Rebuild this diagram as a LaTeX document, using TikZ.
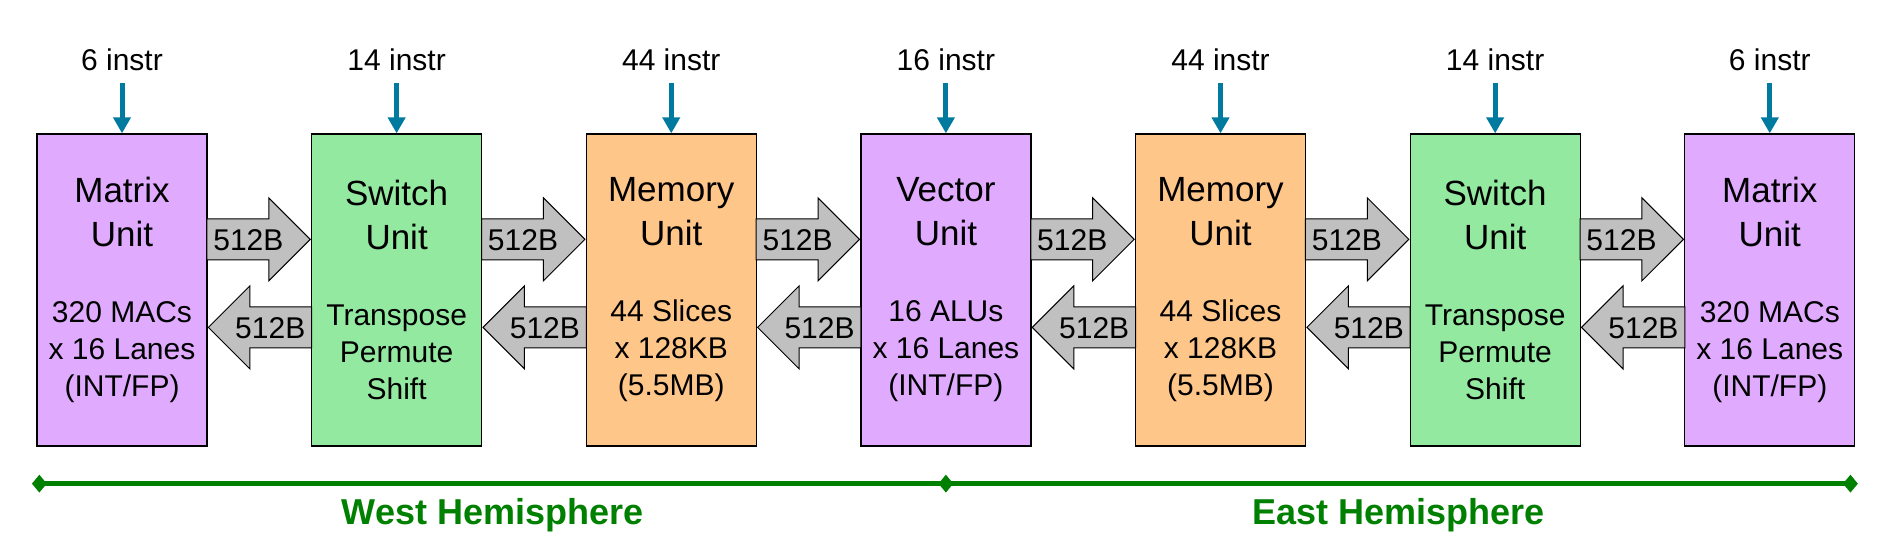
\documentclass[tikz,border=0pt]{standalone}
\usepackage{fontspec}
\setmainfont{Liberation Sans}
\usetikzlibrary{positioning,calc,shapes.arrows,shapes.geometric,arrows.meta}

\definecolor{matrixc}{RGB}{224,170,255}
\definecolor{switchc}{RGB}{148,233,160}
\definecolor{memc}{RGB}{255,198,138}
\definecolor{busc}{RGB}{192,192,192}
\definecolor{instrc}{RGB}{0,122,158}
\definecolor{hemic}{RGB}{0,128,0}

\newcommand{\uname}{\fontsize{35}{37}\selectfont}
\newcommand{\uinfo}{\fontsize{30}{37}\selectfont}

\tikzset{
  unit/.style={draw, line width=1.3pt, minimum width=170pt, minimum height=312pt,
    align=center, inner sep=0pt, font=\uinfo},
  bus/.style={single arrow, draw, fill=busc, line width=1pt, minimum height=103.33pt,
    single arrow head extend=21pt, text height=22pt, text depth=0pt,
    inner ysep=9pt, inner xsep=2pt, font=\uinfo},
  fwd/.style={bus, anchor=tip},
  bwd/.style={bus, shape border rotate=180, anchor=tip},
  instr/.style={font=\uinfo, inner xsep=0pt, inner ysep=12pt},
  instrarrow/.style={draw=instrc, line width=5pt, -{Triangle[width=17pt,length=16pt]}},
  hemiline/.style={draw=hemic, line width=5pt},
  hemimark/.style={diamond, fill=hemic, inner sep=0pt, minimum width=15pt, minimum height=18pt},
  hemitext/.style={text=hemic, font=\fontsize{36}{40}\selectfont\bfseries}
}

\begin{document}
\begin{tikzpicture}[x=1pt, y=1pt]
  \useasboundingbox (0,0) rectangle (1895,-537);

  % units, west to east
  \node[unit, fill=matrixc] (matW) at (122,-290)
    {\uname Matrix\\[7pt]\uname Unit\\[39pt]320 MACs\\x 16 Lanes\\(INT/FP)};
  \node[unit, fill=switchc, right=103.33pt of matW] (swW)
    {\uname Switch\\[7pt]\uname Unit\\[39pt]Transpose\\Permute\\Shift};
  \node[unit, fill=memc, right=103.33pt of swW] (memW)
    {\uname Memory\\[7pt]\uname Unit\\[39pt]44 Slices\\x 128KB\\(5.5MB)};
  \node[unit, fill=matrixc, right=103.33pt of memW] (vec)
    {\uname Vector\\[7pt]\uname Unit\\[39pt]16 ALUs\\x 16 Lanes\\(INT/FP)};
  \node[unit, fill=memc, right=103.33pt of vec] (memE)
    {\uname Memory\\[7pt]\uname Unit\\[39pt]44 Slices\\x 128KB\\(5.5MB)};
  \node[unit, fill=switchc, right=103.33pt of memE] (swE)
    {\uname Switch\\[7pt]\uname Unit\\[39pt]Transpose\\Permute\\Shift};
  \node[unit, fill=matrixc, right=103.33pt of swE] (matE)
    {\uname Matrix\\[7pt]\uname Unit\\[39pt]320 MACs\\x 16 Lanes\\(INT/FP)};

  % 512B links between neighbours
  \foreach \a/\b [count=\i] in {matW/swW, swW/memW, memW/vec, vec/memE, memE/swE, swE/matE} {
    \node[fwd] (f\i) at ($(\b.north west)+(0,-106)$) {512B};
    \node[bwd] (b\i) at ($(\a.north east)+(0,-194)$) {512B};
  }

  % instruction counts
  \foreach \u/\n in {matW/6, swW/14, memW/44, vec/16, memE/44, swE/14, matE/6} {
    \node[instr, above=50pt of \u] (i\u) {{\n} instr};
    \draw[instrarrow] (i\u) -- (\u);
  }

  % hemispheres
  \coordinate (hw) at ($(matW.south west)+(3,-37)$);
  \coordinate (hm) at ($(vec.south)+(0,-37)$);
  \coordinate (he) at ($(matE.south east)+(-5,-37)$);
  \draw[hemiline] (hw) -- (he);
  \foreach \p in {hw,hm,he}
    \node[hemimark] at (\p) {};
  \node[hemitext] (west) at ($(hw)!0.5!(hm)+(0,-32)$) {West Hemisphere};
  \node[hemitext] (east) at ($(hm)!0.5!(he)+(0,-32)$) {East Hemisphere};
\end{tikzpicture}
\end{document}
